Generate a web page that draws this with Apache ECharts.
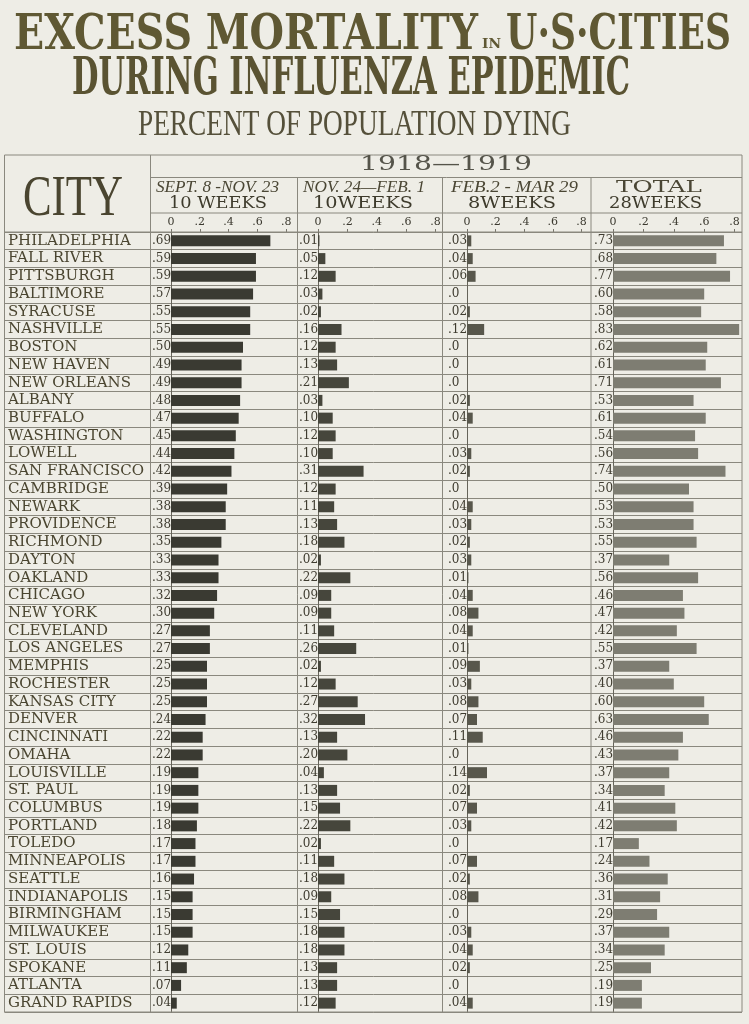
<!DOCTYPE html>
<html>
<head>
<meta charset="utf-8">
<script src="https://cdn.jsdelivr.net/npm/echarts@6/dist/echarts.min.js"></script>
<style>html,body{margin:0;padding:0;background:#eeede6;}#chart{width:749px;height:1024px;}</style>
</head>
<body>
<div id="chart"></div>
<script>
// ---- data ----
const cities = ['PHILADELPHIA','FALL RIVER','PITTSBURGH','BALTIMORE','SYRACUSE','NASHVILLE','BOSTON','NEW HAVEN','NEW ORLEANS','ALBANY','BUFFALO','WASHINGTON','LOWELL','SAN FRANCISCO','CAMBRIDGE','NEWARK','PROVIDENCE','RICHMOND','DAYTON','OAKLAND','CHICAGO','NEW YORK','CLEVELAND','LOS ANGELES','MEMPHIS','ROCHESTER','KANSAS CITY','DENVER','CINCINNATI','OMAHA','LOUISVILLE','ST. PAUL','COLUMBUS','PORTLAND','TOLEDO','MINNEAPOLIS','SEATTLE','INDIANAPOLIS','BIRMINGHAM','MILWAUKEE','ST. LOUIS','SPOKANE','ATLANTA','GRAND RAPIDS'];
const sepNov = [.69,.59,.59,.57,.55,.55,.50,.49,.49,.48,.47,.45,.44,.42,.39,.38,.38,.35,.33,.33,.32,.30,.27,.27,.25,.25,.25,.24,.22,.22,.19,.19,.19,.18,.17,.17,.16,.15,.15,.15,.12,.11,.07,.04];
const novFeb = [.01,.05,.12,.03,.02,.16,.12,.13,.21,.03,.10,.12,.10,.31,.12,.11,.13,.18,.02,.22,.09,.09,.11,.26,.02,.12,.27,.32,.13,.20,.04,.13,.15,.22,.02,.11,.18,.09,.15,.18,.18,.13,.13,.12];
const febMar = [.03,.04,.06,0,.02,.12,0,0,0,.02,.04,0,.03,.02,0,.04,.03,.02,.03,.01,.04,.08,.04,.01,.09,.03,.08,.07,.11,0,.14,.02,.07,.03,0,.07,.02,.08,0,.03,.04,.02,0,.04];
const total = [.73,.68,.77,.60,.58,.83,.62,.61,.71,.53,.61,.54,.56,.74,.50,.53,.53,.55,.37,.56,.46,.47,.42,.55,.37,.40,.60,.63,.46,.43,.37,.34,.41,.42,.17,.24,.36,.31,.29,.37,.34,.25,.19,.19];
const tickLabels = ['0','.2','.4','.6','.8'];
const periods = [
  ['SEPT. 8 -NOV. 23','10 WEEKS'],
  ['NOV. 24—FEB. 1','10WEEKS'],
  ['FEB.2 - MAR 29','8WEEKS'],
  ['TOTAL','28WEEKS']
];
const seriesData = [sepNov, novFeb, febMar, total];

// ---- layout ----
const TOP = 232, HEIGHT = 780;
const zeroX = [171, 318, 467, 613];
const pxPerUnit = [144, 147, 143, 152];
const barColors = ['#3a3a32', '#46463c', '#58574c', '#7e7d72'];
const lineColor = '#8a887e';
const inkCity = '#4a4530';

function fmt(v) {
  if (v === 0) return '.0';
  return '.' + String(Math.round(v * 100)).padStart(2, '0');
}

const ctx = document.createElement('canvas').getContext('2d');
function fitText(text, font, x, yc, width, fill, extra) {
  ctx.font = font;
  const w = ctx.measureText(text).width;
  return Object.assign({
    type: 'text', x: x, y: yc, scaleX: width / w, silent: true, z: 10,
    style: { text: text, font: font, fill: fill, align: 'left', verticalAlign: 'middle' }
  }, extra || {});
}
function hline(x1, x2, y) {
  return { type: 'line', silent: true, z: 5, shape: { x1: x1, y1: y, x2: x2, y2: y }, style: { stroke: lineColor, lineWidth: 1 } };
}
function vline(x, y1, y2) {
  return { type: 'line', silent: true, z: 5, shape: { x1: x, y1: y1, x2: x, y2: y2 }, style: { stroke: lineColor, lineWidth: 1 } };
}

const L = 4.5, R = 742, TT = 155, BB = TOP + HEIGHT;
const colB = [150.5, 297.5, 442.5, 591, R];

const graphic = [
  { type: 'rect', silent: true, z: 5, shape: { x: L, y: TT, width: R - L, height: BB - TT }, style: { fill: 'none', stroke: lineColor, lineWidth: 1 } },
  vline(colB[0], TT, BB),
  hline(colB[0], R, 177.5),
  hline(colB[0], R, 213),
  hline(L, R, TOP),
  vline(colB[1], 177.5, BB),
  vline(colB[2], 177.5, BB),
  vline(colB[3], 177.5, BB),
  // titles
  fitText('EXCESS MORTALITY', 'bold 48px "DejaVu Serif"', 14, 37, 464, '#5f5833'),
  fitText('IN', 'bold 13px "DejaVu Serif"', 482, 45, 19, '#5f5833'),
  fitText('U·S·CITIES', 'bold 48px "DejaVu Serif"', 506, 37, 225, '#5f5833'),
  fitText('DURING INFLUENZA EPIDEMIC', 'bold 53px "DejaVu Serif"', 72, 80, 558, '#5a5332'),
  fitText('PERCENT OF POPULATION DYING', '36px "Liberation Serif"', 138, 126, 433, '#55503a'),
  // header
  fitText('CITY', '56px "Liberation Serif"', 23, 200, 100, '#4a4530'),
  fitText('1918—1919', '21px "DejaVu Serif"', 360, 165, 172, '#55544a'),
  fitText(periods[0][0], 'italic 17px "Liberation Serif"', 156, 188, 123, '#4a4634'),
  fitText(periods[0][1], '17px "DejaVu Serif"', 169, 204, 98, '#3e3b2c'),
  fitText(periods[1][0], 'italic 17px "Liberation Serif"', 303, 188, 122, '#4a4634'),
  fitText(periods[1][1], '17px "DejaVu Serif"', 313, 204, 100, '#3e3b2c'),
  fitText(periods[2][0], 'italic 17px "Liberation Serif"', 451, 188, 127, '#4a4634'),
  fitText(periods[2][1], '17px "DejaVu Serif"', 468, 204, 88, '#3e3b2c'),
  fitText(periods[3][0], '17px "DejaVu Serif"', 616, 188, 86, '#4a4634'),
  fitText(periods[3][1], '17px "DejaVu Serif"', 609, 204, 93, '#3e3b2c')
];

const grid = [], xAxis = [], yAxis = [], series = [];
for (let i = 0; i < 4; i++) {
  grid.push({ left: zeroX[i], top: TOP, width: 0.8 * pxPerUnit[i], height: HEIGHT });
  xAxis.push({
    gridIndex: i, type: 'value', min: 0, max: 0.8, interval: 0.2, position: 'top',
    axisLine: { show: false },
    axisTick: { show: true, length: 3, lineStyle: { color: '#77756b' } },
    axisLabel: { margin: 4, fontSize: 11, fontFamily: 'DejaVu Serif', color: '#3a382e',
      formatter: function (v) { return tickLabels[Math.round(v / 0.2)] || ''; } },
    splitLine: { show: false }
  });
  const data = seriesData[i];
  yAxis.push({
    gridIndex: i, type: 'category', data: cities, inverse: true,
    axisLine: { show: true, lineStyle: { color: '#66645a', width: 1 } },
    axisTick: { show: false },
    axisLabel: { interval: 0, align: 'left', margin: 19, fontSize: 12, fontFamily: 'DejaVu Serif', color: '#3f3c30',
      formatter: function (v, idx) { return fmt(data[idx]); } },
    splitLine: { show: false }
  });
  series.push({
    type: 'bar', xAxisIndex: i, yAxisIndex: i, data: data, barWidth: 11, clip: false, silent: true,
    itemStyle: { color: barColors[i] }
  });
}
// city names axis
yAxis.push({
  gridIndex: 0, type: 'category', data: cities, inverse: true, position: 'left',
  axisLine: { show: false }, axisTick: { show: false },
  axisLabel: { interval: 0, align: 'left', margin: 163, fontSize: 15, fontFamily: 'DejaVu Serif', color: inkCity },
  splitLine: { show: false }
});
// row separator grid
grid.push({ left: L, top: TOP, width: R - L, height: HEIGHT });
xAxis.push({ gridIndex: 4, type: 'value', show: false });
yAxis.push({
  gridIndex: 4, type: 'category', data: cities, inverse: true,
  axisLine: { show: false }, axisTick: { show: false }, axisLabel: { show: false },
  splitLine: { show: true, interval: 0, lineStyle: { color: lineColor, width: 1 } }
});

const chart = echarts.init(document.getElementById('chart'));
chart.setOption({
  backgroundColor: '#eeede6',
  animation: false,
  grid: grid, xAxis: xAxis, yAxis: yAxis, series: series,
  graphic: graphic
});
</script>
</body>
</html>
